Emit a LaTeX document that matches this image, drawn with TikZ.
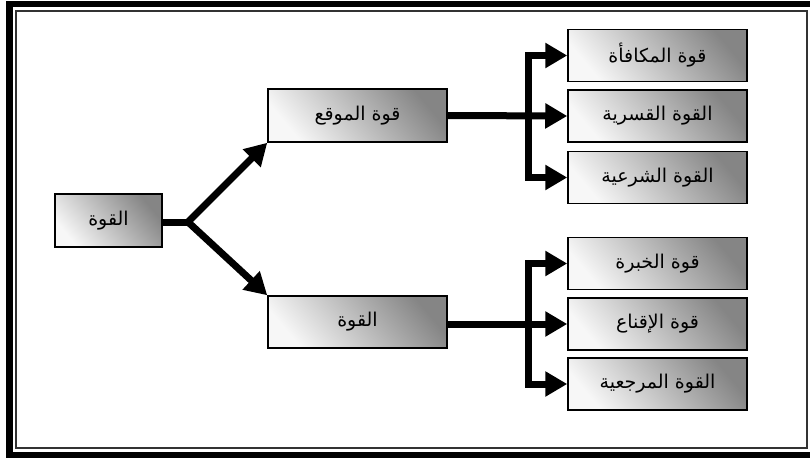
\documentclass[tikz,border=0pt]{standalone}
\usepackage{fontspec}
\usetikzlibrary{arrows.meta}
\TeXXeTstate=1
\newfontfamily\arabicfont[Script=Arabic]{DejaVu Sans}
\newcommand{\ar}[1]{\arabicfont\beginR #1\endR}

\tikzset{
  powerbox/.style={draw=black, line width=1.5pt, minimum width=179pt, minimum height=52pt,
    inner sep=0pt, top color=black!48, bottom color=black!3, shading angle=-50,
    font=\fontsize{19}{22}\selectfont},
  link/.style={line width=7pt, line join=miter},
  linkarrow/.style={link, -{Triangle[length=22pt,width=24pt]}},
}

\begin{document}
\begin{tikzpicture}[x=1pt, y=-1pt]
  \useasboundingbox (0,0) rectangle (810,461);
  \clip (0,0) rectangle (810,461);

  % double frame
  \fill[black] (6,1) rectangle (830,458);
  \fill[white] (13,7) rectangle (830,452);
  \draw[line width=1.5pt, draw=black!80] (16,11) rectangle (807,448);

  % boxes
  \node[powerbox, minimum width=107pt, minimum height=53pt] (root) at (108.5,220.5) {\ar{القوة}};
  \node[powerbox, minimum height=53pt] (pos) at (357.5,115.5) {\ar{قوة الموقع}};
  \node[powerbox] (pers) at (357.5,322) {\ar{القوة}};

  \node[powerbox] (r1) at (657.5,55.5) {\ar{قوة المكافأة}};
  \node[powerbox] (r2) at (657.5,116) {\ar{القوة القسرية}};
  \node[powerbox] (r3) at (657.5,177.5) {\ar{القوة الشرعية}};
  \node[powerbox] (r4) at (657.5,263.5) {\ar{قوة الخبرة}};
  \node[powerbox] (r5) at (657.5,324) {\ar{قوة الإقناع}};
  \node[powerbox] (r6) at (657.5,384) {\ar{القوة المرجعية}};

  % fork from the root
  \coordinate (fork) at (188,222);
  \draw[link] (root.east |- fork) -- (fork);
  \draw[linkarrow] (fork) -- (pos.south west);
  \draw[linkarrow] (fork) -- (pers.north west);

  % upper branch
  \coordinate (ub) at (528,116);
  \draw[linkarrow] (pos.east) -- (r2.west);
  \draw[linkarrow] (ub) |- (r1.west);
  \draw[linkarrow] (ub) |- (r3.west);

  % lower branch
  \coordinate (lb) at (528,324);
  \draw[linkarrow] (pers.east |- lb) -- (r5.west);
  \draw[linkarrow] (lb) |- (r4.west);
  \draw[linkarrow] (lb) |- (r6.west);
\end{tikzpicture}
\end{document}
